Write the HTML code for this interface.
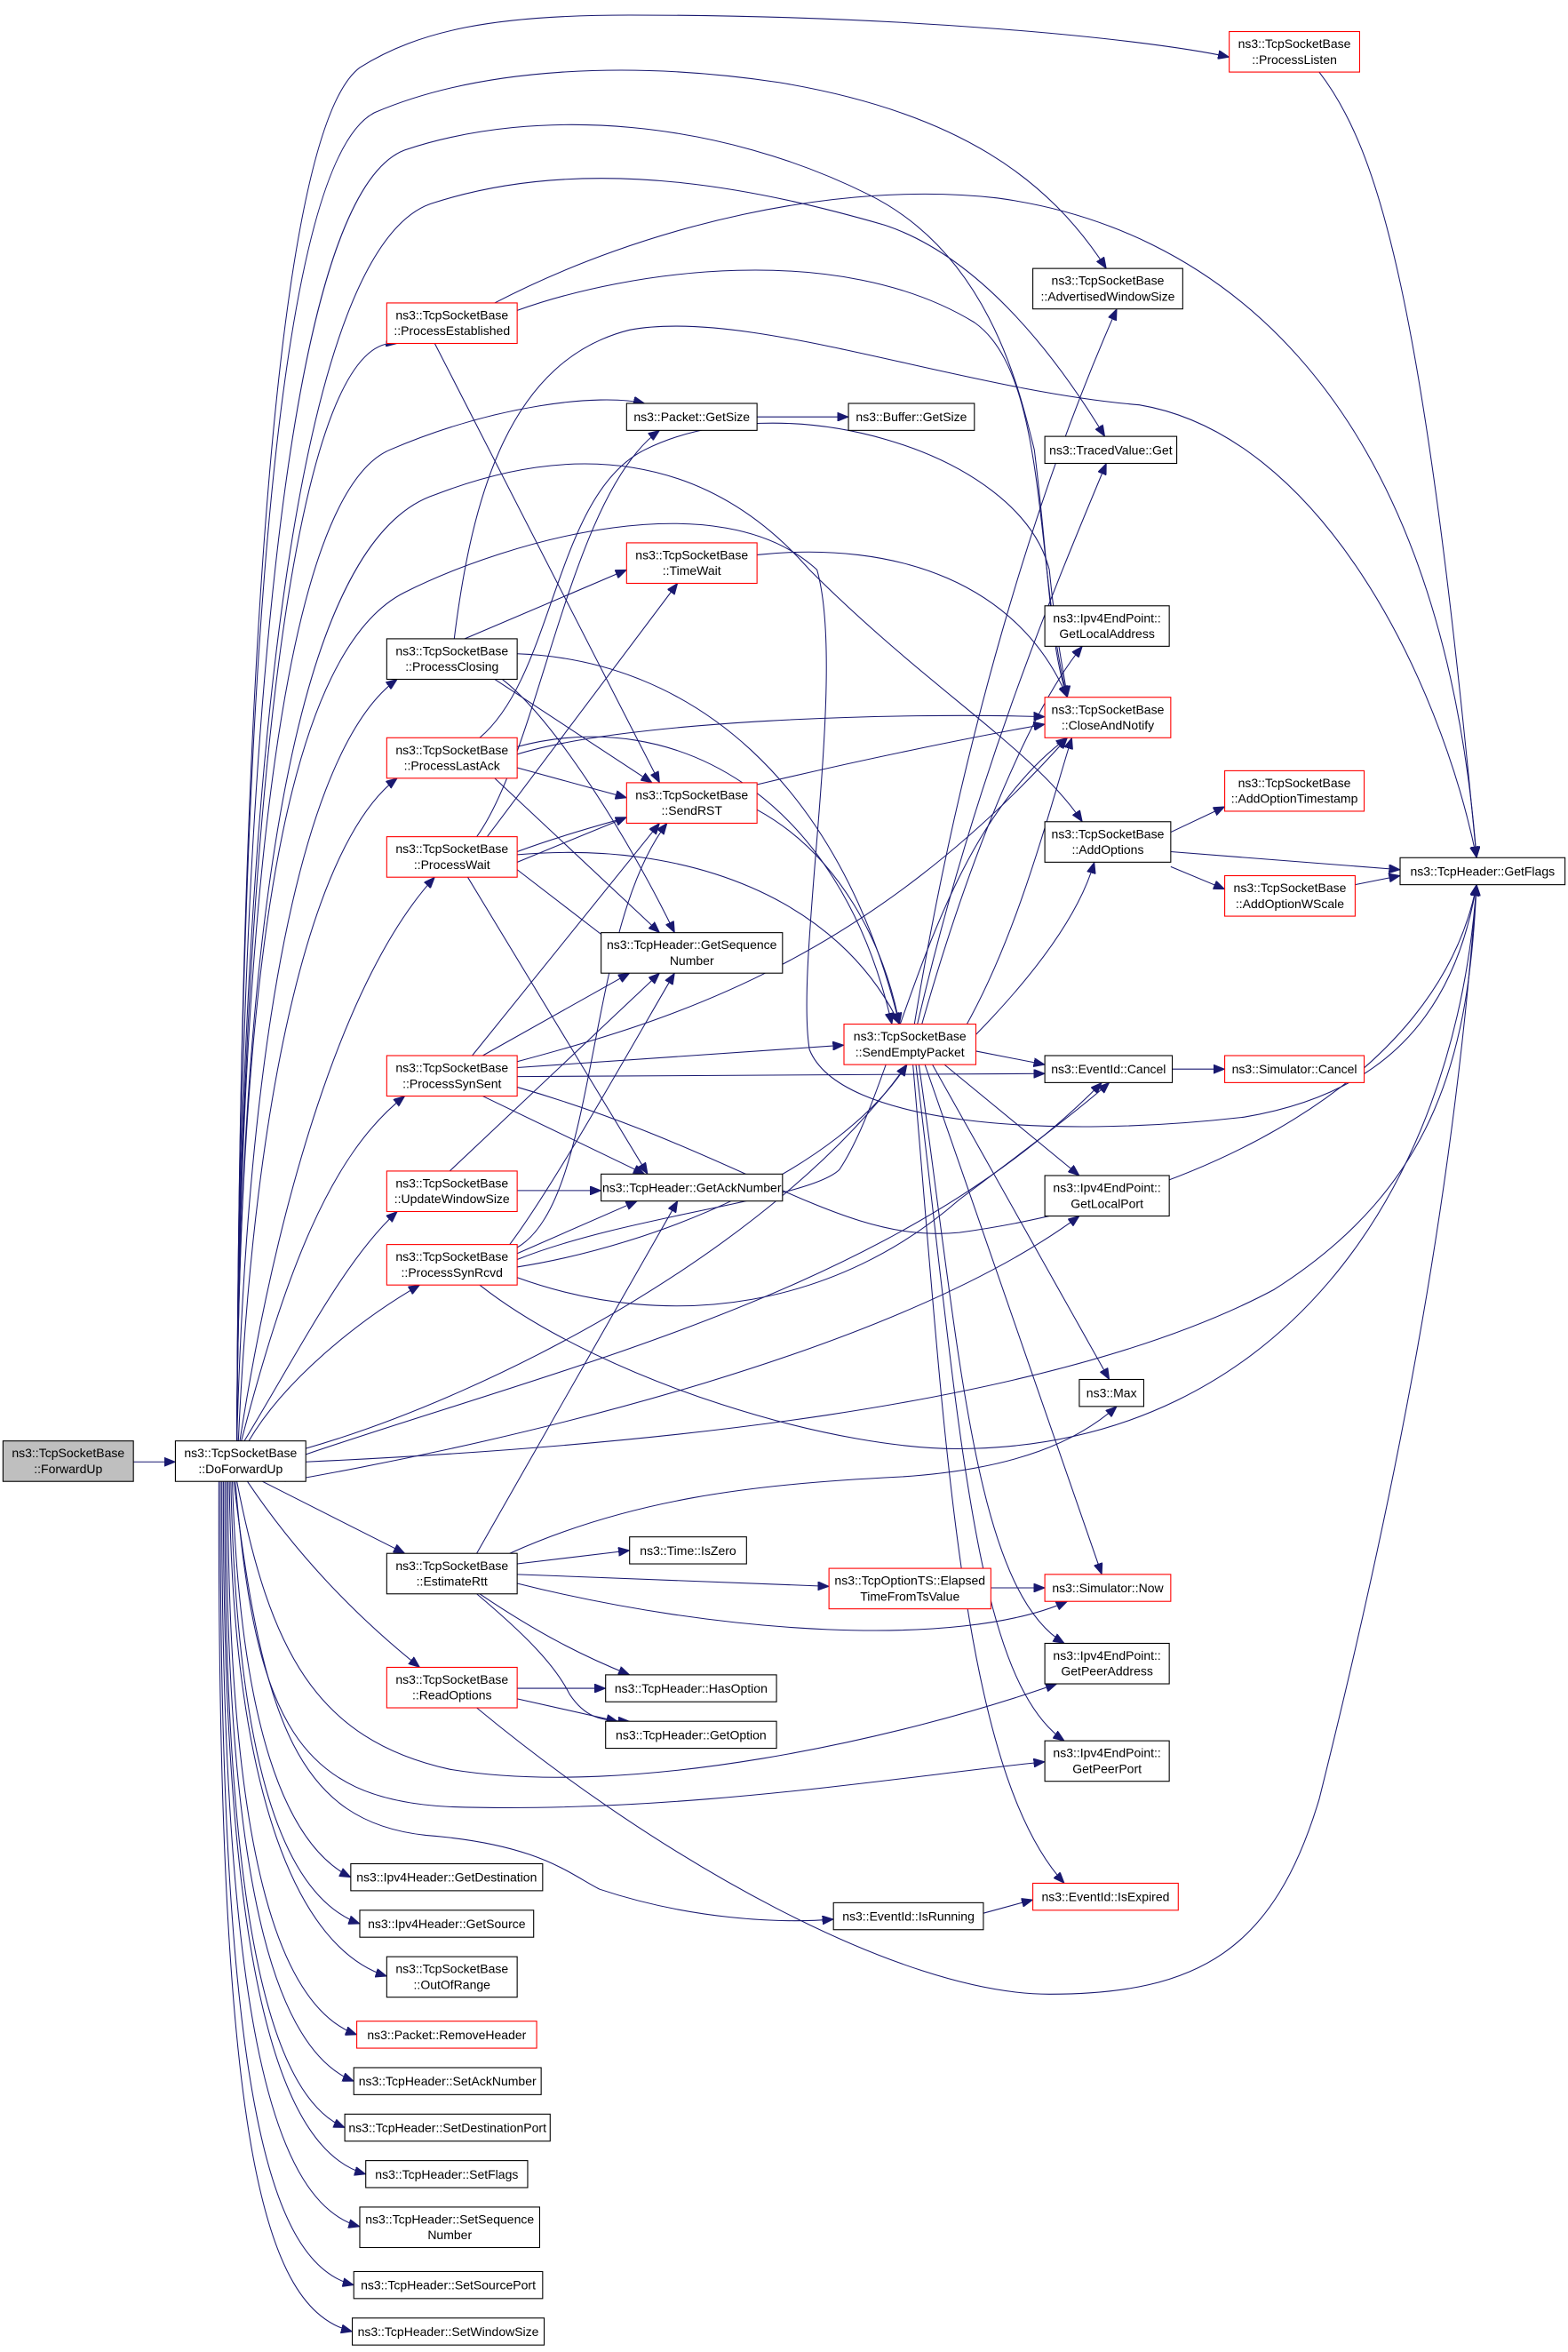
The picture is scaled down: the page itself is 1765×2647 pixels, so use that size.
<!DOCTYPE html>
<html><head><meta charset="utf-8"><style>
html,body{margin:0;padding:0;background:#fff;}
svg{display:block;}
text{font-family:"Liberation Sans",Arial,sans-serif;font-size:8.3px;fill:#000;text-anchor:middle;}
.e{fill:none;stroke:#191970;stroke-width:0.62;}
.n{fill:#fff;stroke:#000;stroke-width:0.65;}
.r{fill:#fff;stroke:#ff0000;stroke-width:0.65;}
</style></head><body>
<svg width="1765" height="2647" viewBox="0 0 1046 1568.6" xmlns="http://www.w3.org/2000/svg">
<defs><marker id="a" markerUnits="userSpaceOnUse" markerWidth="8" markerHeight="6" refX="7.5" refY="3" orient="auto"><path d="M0,0 L7.5,3 L0,6 z" fill="#191970" stroke="#191970" stroke-width="0.5"/></marker></defs>
<g marker-end="url(#a)">
<!-- ForwardUp -> DoForwardUp -->
<path class="e" d="M89,975 L117,975"/>
<!-- DF top fan -->
<path class="e" d="M158,961 C160,500 180,90 240,45 C280,20 330,10 420,10 C600,10 760,25 820,38"/>
<path class="e" d="M158,961 C160,500 180,110 250,75 C320,45 420,40 520,55 C640,75 700,120 738,179"/>
<path class="e" d="M158,961 C160,500 190,130 270,100 C360,70 480,80 580,130 C660,170 680,260 690,300 C700,380 700,430 712,465"/>
<path class="e" d="M158,961 C160,500 200,160 290,135 C400,100 520,130 590,150 C650,170 700,230 737,291"/>
<path class="e" d="M158,961 C160,600 190,220 265,229"/>
<path class="e" d="M158,961 C160,600 190,330 260,300 C330,270 400,262 430,269"/>
<path class="e" d="M158,961 C160,600 200,360 290,330 C380,295 470,300 540,380 C620,460 690,500 722,548"/>
<path class="e" d="M158,961 C160,600 200,430 270,395 C340,360 480,320 545,380 C565,450 530,640 540,700 C560,750 700,760 830,745 C920,730 970,680 985,590"/>
<path class="e" d="M158,961 C165,700 200,500 265,453"/>
<path class="e" d="M159,961 C170,720 210,560 265,519"/>
<path class="e" d="M160,961 C185,800 230,650 290,585"/>
<path class="e" d="M161,961 C190,850 220,770 270,731"/>
<path class="e" d="M163,961 C200,900 230,840 265,808"/>
<path class="e" d="M166,961 C190,920 240,880 280,857"/>
<path class="e" d="M204,966 C330,930 520,830 605,710"/>
<path class="e" d="M204,970 C380,910 600,860 735,722"/>
<path class="e" d="M190,988 C350,960 600,900 720,811"/>
<path class="e" d="M204,975 C420,965 700,940 850,860 C960,790 980,700 985,590"/>
<!-- DF bottom fan -->
<path class="e" d="M175,988 L270,1036"/>
<path class="e" d="M165,988 C200,1040 240,1080 280,1112"/>
<path class="e" d="M158,988 C180,1100 210,1160 300,1180 C420,1200 600,1160 705,1123"/>
<path class="e" d="M157,988 C170,1150 200,1200 300,1205 C450,1210 600,1185 697,1175"/>
<path class="e" d="M156,988 C175,1150 200,1215 284,1224 C360,1230 380,1250 400,1260 C460,1280 520,1283 556,1280"/>
<path class="e" d="M155,988 C160,1150 190,1230 234,1252"/>
<path class="e" d="M154,988 C158,1180 190,1265 240,1283"/>
<path class="e" d="M153,988 C155,1200 200,1300 258,1318"/>
<path class="e" d="M152,988 C152,1250 190,1340 238,1357"/>
<path class="e" d="M151,988 C150,1280 190,1370 236,1388"/>
<path class="e" d="M150,988 C149,1300 185,1400 230,1419"/>
<path class="e" d="M149,988 C148,1330 190,1435 244,1450"/>
<path class="e" d="M148,988 C147,1360 185,1470 240,1485"/>
<path class="e" d="M147,988 C146,1400 180,1510 236,1524"/>
<path class="e" d="M146,988 C145,1430 175,1540 235,1555"/>
<!-- ProcessEstablished -->
<path class="e" d="M330,202 C430,150 560,120 665,132 C800,150 960,250 985,572"/>
<path class="e" d="M345,207 C420,180 560,160 650,215 C700,250 690,380 712,465"/>
<path class="e" d="M290,229 L440,522"/>
<!-- Packet::GetSize -> Buffer -->
<path class="e" d="M505,278 L566,278"/>
<!-- ProcessListen -->
<path class="e" d="M880,48 C920,100 950,200 985,572"/>
<!-- TimeWait -->
<path class="e" d="M505,370 C600,360 680,390 712,465"/>
<!-- ProcessClosing -->
<path class="e" d="M310,426 L418,380"/>
<path class="e" d="M303,426 C315,330 340,240 420,220 C500,205 640,260 760,270 C880,290 960,450 985,572"/>
<path class="e" d="M345,436 C460,440 560,520 600,683"/>
<path class="e" d="M330,453 L435,522"/>
<path class="e" d="M335,453 C370,480 420,560 450,622"/>
<!-- ProcessLastAck -->
<path class="e" d="M345,503 C420,480 600,475 697,478"/>
<path class="e" d="M345,512 L418,532"/>
<path class="e" d="M345,498 C450,470 560,530 595,683"/>
<path class="e" d="M330,519 L440,622"/>
<path class="e" d="M320,492 C370,450 370,330 430,300 C520,255 680,300 700,380 C705,430 710,450 712,465"/>
<!-- ProcessWait -->
<path class="e" d="M345,568 C420,540 600,500 697,483"/>
<path class="e" d="M345,575 L418,545"/>
<path class="e" d="M325,558 L452,389"/>
<path class="e" d="M318,558 C360,500 380,330 440,287"/>
<path class="e" d="M345,580 L410,630"/>
<path class="e" d="M312,585 L432,783"/>
<path class="e" d="M345,570 C460,560 560,600 600,683"/>
<!-- ProcessSynSent -->
<path class="e" d="M345,712 L563,697"/>
<path class="e" d="M345,718 L697,716"/>
<path class="e" d="M345,708 C450,680 580,640 712,492"/>
<path class="e" d="M315,704 L440,549"/>
<path class="e" d="M322,704 L420,649"/>
<path class="e" d="M322,731 L430,783"/>
<path class="e" d="M345,725 C500,770 560,830 640,822 C800,800 960,720 985,590"/>
<!-- UpdateWindowSize -->
<path class="e" d="M345,794 L401,794"/>
<path class="e" d="M300,781 L440,649"/>
<!-- ProcessSynRcvd -->
<path class="e" d="M345,836 L425,801"/>
<path class="e" d="M345,832 C400,800 390,620 445,549"/>
<path class="e" d="M340,830 C370,790 420,700 450,649"/>
<path class="e" d="M345,845 C440,830 560,780 605,710"/>
<path class="e" d="M345,840 C420,810 540,800 560,780 C600,720 620,560 712,492"/>
<path class="e" d="M345,852 C450,890 560,870 640,800 C680,770 720,740 740,722"/>
<path class="e" d="M320,857 C400,920 560,970 650,966 C850,960 970,800 985,590"/>
<!-- SendRST -> SEP -->
<path class="e" d="M505,540 C560,570 590,630 600,683"/>
<!-- SendEmptyPacket out -->
<path class="e" d="M610,683 C640,500 690,330 745,206"/>
<path class="e" d="M612,683 C650,520 700,400 738,309"/>
<path class="e" d="M615,683 C650,560 690,470 722,431"/>
<path class="e" d="M645,683 C680,620 700,540 715,492"/>
<path class="e" d="M651,690 C690,650 720,610 730,575"/>
<path class="e" d="M651,701 L697,710"/>
<path class="e" d="M630,710 L720,784"/>
<path class="e" d="M622,710 L740,920"/>
<path class="e" d="M617,710 L735,1050"/>
<path class="e" d="M613,710 C640,900 650,1060 710,1096"/>
<path class="e" d="M611,710 C640,950 650,1120 710,1161"/>
<path class="e" d="M609,710 C630,950 640,1180 710,1256"/>
<!-- AddOptions -->
<path class="e" d="M781,555 L817,538"/>
<path class="e" d="M781,568 L934,580"/>
<path class="e" d="M781,578 L817,593"/>
<path class="e" d="M904,590 L934,584"/>
<!-- Cancel -->
<path class="e" d="M782,713 L817,713"/>
<!-- EstimateRtt -->
<path class="e" d="M318,1036 L452,801"/>
<path class="e" d="M340,1036 C420,1000 500,990 600,985 C680,980 720,960 745,938"/>
<path class="e" d="M345,1043 L420,1034"/>
<path class="e" d="M345,1050 L553,1058"/>
<path class="e" d="M345,1056 C480,1090 640,1100 712,1068"/>
<path class="e" d="M320,1063 C360,1090 390,1105 420,1117"/>
<path class="e" d="M318,1063 C350,1090 370,1110 380,1130 C390,1145 400,1148 420,1148"/>
<path class="e" d="M661,1059 L697,1059"/>
<!-- ReadOptions -->
<path class="e" d="M345,1126 L404,1126"/>
<path class="e" d="M345,1133 L412,1148"/>
<path class="e" d="M318,1139 C440,1240 600,1330 700,1330 C800,1330 850,1300 880,1200 C930,1000 970,800 985,590"/>
<!-- IsRunning -->
<path class="e" d="M656,1276 L689,1267"/>
</g>
<!-- Nodes -->
<rect x="2" y="961" width="87" height="27" fill="#bfbfbf" stroke="#000" stroke-width="0.65"/><text x="45.5" y="972">ns3::TcpSocketBase</text><text x="45.5" y="982.5">::ForwardUp</text>
<rect class="n" x="117" y="961" width="87" height="27"/><text x="160.5" y="972">ns3::TcpSocketBase</text><text x="160.5" y="982.5">::DoForwardUp</text>
<rect class="r" x="820" y="21" width="87" height="27"/><text x="863.5" y="32">ns3::TcpSocketBase</text><text x="863.5" y="42.5">::ProcessListen</text>
<rect class="n" x="689" y="179" width="100" height="27"/><text x="739" y="190">ns3::TcpSocketBase</text><text x="739" y="200.5">::AdvertisedWindowSize</text>
<rect class="r" x="258" y="202" width="87" height="27"/><text x="301.5" y="213">ns3::TcpSocketBase</text><text x="301.5" y="223.5">::ProcessEstablished</text>
<rect class="n" x="418" y="269" width="87" height="18"/><text x="461.5" y="281">ns3::Packet::GetSize</text>
<rect class="n" x="566" y="269" width="84" height="18"/><text x="608" y="281">ns3::Buffer::GetSize</text>
<rect class="n" x="697" y="291" width="88" height="18"/><text x="741" y="303">ns3::TracedValue::Get</text>
<rect class="r" x="418" y="362" width="87" height="27"/><text x="461.5" y="373">ns3::TcpSocketBase</text><text x="461.5" y="383.5">::TimeWait</text>
<rect class="n" x="258" y="426" width="87" height="27"/><text x="301.5" y="437">ns3::TcpSocketBase</text><text x="301.5" y="447.5">::ProcessClosing</text>
<rect class="n" x="697" y="404" width="83" height="27"/><text x="738.5" y="415">ns3::Ipv4EndPoint::</text><text x="738.5" y="425.5">GetLocalAddress</text>
<rect class="r" x="697" y="465" width="84" height="27"/><text x="739" y="476">ns3::TcpSocketBase</text><text x="739" y="486.5">::CloseAndNotify</text>
<rect class="r" x="258" y="492" width="87" height="27"/><text x="301.5" y="503">ns3::TcpSocketBase</text><text x="301.5" y="513.5">::ProcessLastAck</text>
<rect class="r" x="418" y="522" width="87" height="27"/><text x="461.5" y="533">ns3::TcpSocketBase</text><text x="461.5" y="543.5">::SendRST</text>
<rect class="r" x="817" y="514" width="93" height="27"/><text x="863.5" y="525">ns3::TcpSocketBase</text><text x="863.5" y="535.5">::AddOptionTimestamp</text>
<rect class="n" x="697" y="548" width="84" height="27"/><text x="739" y="559">ns3::TcpSocketBase</text><text x="739" y="569.5">::AddOptions</text>
<rect class="n" x="934" y="572" width="110" height="18"/><text x="989" y="584">ns3::TcpHeader::GetFlags</text>
<rect class="r" x="258" y="558" width="87" height="27"/><text x="301.5" y="569">ns3::TcpSocketBase</text><text x="301.5" y="579.5">::ProcessWait</text>
<rect class="r" x="817" y="584" width="87" height="27"/><text x="860.5" y="595">ns3::TcpSocketBase</text><text x="860.5" y="605.5">::AddOptionWScale</text>
<rect class="n" x="401" y="622" width="121" height="27"/><text x="461.5" y="633">ns3::TcpHeader::GetSequence</text><text x="461.5" y="643.5">Number</text>
<rect class="r" x="563" y="683" width="88" height="27"/><text x="607" y="694">ns3::TcpSocketBase</text><text x="607" y="704.5">::SendEmptyPacket</text>
<rect class="r" x="258" y="704" width="87" height="27"/><text x="301.5" y="715">ns3::TcpSocketBase</text><text x="301.5" y="725.5">::ProcessSynSent</text>
<rect class="n" x="697" y="704" width="85" height="18"/><text x="739.5" y="716">ns3::EventId::Cancel</text>
<rect class="r" x="817" y="704" width="93" height="18"/><text x="863.5" y="716">ns3::Simulator::Cancel</text>
<rect class="r" x="258" y="781" width="87" height="27"/><text x="301.5" y="792">ns3::TcpSocketBase</text><text x="301.5" y="802.5">::UpdateWindowSize</text>
<rect class="n" x="401" y="783" width="121" height="18"/><text x="461.5" y="795">ns3::TcpHeader::GetAckNumber</text>
<rect class="n" x="697" y="784" width="83" height="27"/><text x="738.5" y="795">ns3::Ipv4EndPoint::</text><text x="738.5" y="805.5">GetLocalPort</text>
<rect class="r" x="258" y="830" width="87" height="27"/><text x="301.5" y="841">ns3::TcpSocketBase</text><text x="301.5" y="851.5">::ProcessSynRcvd</text>
<rect class="n" x="720" y="920" width="43" height="18"/><text x="741.5" y="932">ns3::Max</text>
<rect class="n" x="258" y="1036" width="87" height="27"/><text x="301.5" y="1047">ns3::TcpSocketBase</text><text x="301.5" y="1057.5">::EstimateRtt</text>
<rect class="n" x="420" y="1025" width="78" height="18"/><text x="459" y="1037">ns3::Time::IsZero</text>
<rect class="r" x="553" y="1046" width="108" height="27"/><text x="607" y="1057">ns3::TcpOptionTS::Elapsed</text><text x="607" y="1067.5">TimeFromTsValue</text>
<rect class="r" x="697" y="1050" width="84" height="18"/><text x="739" y="1062">ns3::Simulator::Now</text>
<rect class="r" x="258" y="1112" width="87" height="27"/><text x="301.5" y="1123">ns3::TcpSocketBase</text><text x="301.5" y="1133.5">::ReadOptions</text>
<rect class="n" x="404" y="1117" width="114" height="18"/><text x="461" y="1129">ns3::TcpHeader::HasOption</text>
<rect class="n" x="404" y="1148" width="114" height="18"/><text x="461" y="1160">ns3::TcpHeader::GetOption</text>
<rect class="n" x="697" y="1096" width="83" height="27"/><text x="738.5" y="1107">ns3::Ipv4EndPoint::</text><text x="738.5" y="1117.5">GetPeerAddress</text>
<rect class="n" x="697" y="1161" width="83" height="27"/><text x="738.5" y="1172">ns3::Ipv4EndPoint::</text><text x="738.5" y="1182.5">GetPeerPort</text>
<rect class="r" x="689" y="1256" width="97" height="18"/><text x="737.5" y="1268">ns3::EventId::IsExpired</text>
<rect class="n" x="556" y="1269" width="100" height="18"/><text x="606" y="1281">ns3::EventId::IsRunning</text>
<rect class="n" x="234" y="1243" width="128" height="18"/><text x="298" y="1255">ns3::Ipv4Header::GetDestination</text>
<rect class="n" x="240" y="1274" width="116" height="18"/><text x="298" y="1286">ns3::Ipv4Header::GetSource</text>
<rect class="n" x="258" y="1305" width="87" height="27"/><text x="301.5" y="1316">ns3::TcpSocketBase</text><text x="301.5" y="1326.5">::OutOfRange</text>
<rect class="r" x="238" y="1348" width="120" height="18"/><text x="298" y="1360">ns3::Packet::RemoveHeader</text>
<rect class="n" x="236" y="1379" width="125" height="18"/><text x="298.5" y="1391">ns3::TcpHeader::SetAckNumber</text>
<rect class="n" x="230" y="1410" width="137" height="18"/><text x="298.5" y="1422">ns3::TcpHeader::SetDestinationPort</text>
<rect class="n" x="244" y="1441" width="108" height="18"/><text x="298" y="1453">ns3::TcpHeader::SetFlags</text>
<rect class="n" x="240" y="1472" width="120" height="27"/><text x="300" y="1483">ns3::TcpHeader::SetSequence</text><text x="300" y="1493.5">Number</text>
<rect class="n" x="236" y="1515" width="126" height="18"/><text x="299" y="1527">ns3::TcpHeader::SetSourcePort</text>
<rect class="n" x="235" y="1546" width="128" height="18"/><text x="299" y="1558">ns3::TcpHeader::SetWindowSize</text>
</svg>
</body></html>
